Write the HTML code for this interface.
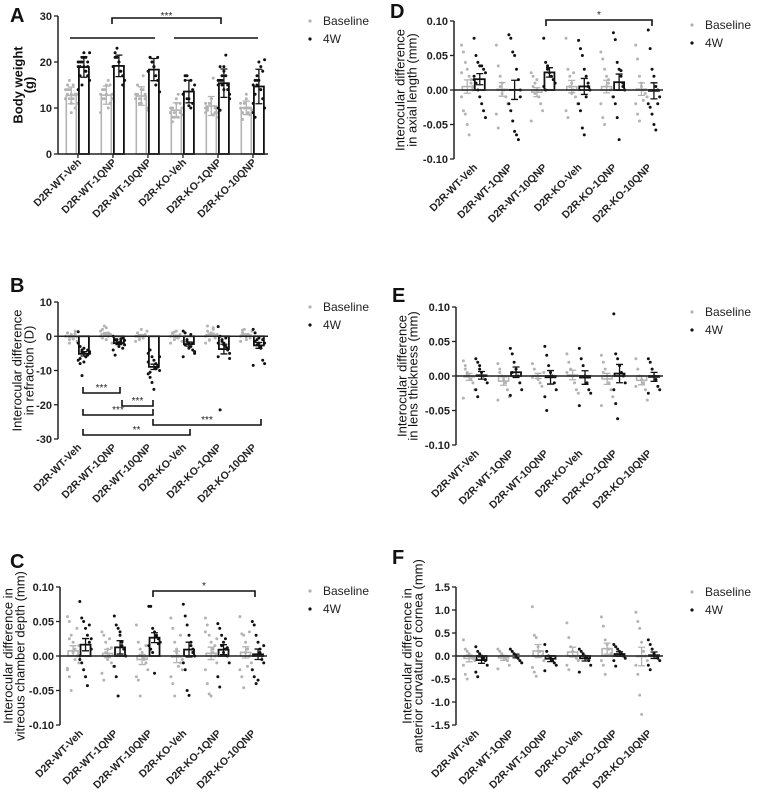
<!DOCTYPE html>
<html><head><meta charset="utf-8">
<style>
html,body{margin:0;padding:0;background:#fff;}
svg{display:block;font-family:"Liberation Sans",Arial,sans-serif;}
</style></head>
<body>
<svg id="fig" width="760" height="795" viewBox="0 0 760 795" xmlns="http://www.w3.org/2000/svg"></svg>
<script>
const categories=["D2R-WT-Veh","D2R-WT-1QNP","D2R-WT-10QNP","D2R-KO-Veh","D2R-KO-1QNP","D2R-KO-10QNP"];
const seriesNames=["Baseline","4W"];

const aBase=[[12,13,14,11,15,10,13,12,14,16,9,12,13,11,14,15,12,13],[13,14,12,15,16,11,13,9,12,14,13,10,15,12],[12,13,11,14,17,12,10,13,15,12,11,14,13,9.5],[9,10,8,11,13,9,8.5,10,7,9,12,8,11,10,9,8],[9,10,11,12,16.5,9,8,10,9.5,11,12,8.5,10,9,11],[10,9,11,13,10,8.5,9.5,11,7.5,10,12,9,10]];
const aW4=[[19,20,21,22,18,17,16,14,19,20,21,18,19,22,20,17,15,19,21,20],[19,21,23,20,18,17,16,19,22,21,20,18,15],[18,21,20,19,17,16,13.5,18,21,20,19,15,21],[13,16,17,12,10,11,15,13,17,12,10.5,16,14],[15,16,17,19,21.5,14,12,10,9.5,16,18,17,15,13,16,19,15,14],[15,16,17,20,19,12,10,9,8,15,16,14,18,20.5,11,13,16]];
const bBase=[[0,1,-1,0.5,-0.5,1.5,-1.5,0,1,-2,0.3,-0.8,0.7,-0.2],[0,2,3,-1,1,0.5,-2,1.5,-0.5,0.8,2.5,0],[0,1,-1,2,-0.5,0.5,1.5,-1.5,0,-0.8,0.3],[0,1,-1,1.5,-0.5,0.5,-1.5,-2,0.8,1.2,-0.3],[0,3,-1,1,2,-0.5,0.5,-2,1.5,-1.2,0.8,2.5,-0.3],[0,1,2,-1,0.5,-0.5,1.5,-1.5,1.8,0.3,-0.2]];
const bW4=[[1.3,-3,-4,-5,-6,-5.5,-4.5,-7,-8,-11.5,-3.5,-6,-4,-5,-2,-6.5,-4.8,-7.5],[0,-1,-2,-3,-1.5,-0.5,-2.5,-4,-5.5,-1,-2,-0.8,-3.5,-1.2],[-5,-4,-6,-7,-8,-9,-10,-11,-12,-13.5,-15.5,-9.5,-8.5,-6,-7.5,-10.5],[1.5,1,-1,-2,-3,-4,-5,-6,-2.5,-1.5,-3.5,0.5,-2,-4.5],[2.8,0,-1,-2,-3,-4,-6.5,-6,-21.5,-1.5,-2.5,-0.5,-3.5,-5,-2],[2,1,-1,-2,-3,-7,-8,-8.5,-1.5,-2.5,-0.5,-3.5,-1,-2]];
const cBase=[[0.057,0.05,0.03,0.02,0.01,0,-0.01,-0.02,-0.03,-0.05,0.005,-0.005,0.04,0.015,-0.018,0.025],[0.035,0.03,0.02,0.01,0,-0.01,-0.015,-0.025,-0.035,0.005,-0.005,0.025,0.012],[0.045,0.02,0.01,0,-0.005,-0.01,-0.02,-0.03,-0.035,-0.058,0.005,-0.003,0.015],[0.055,0.04,0.02,0.01,0,-0.01,-0.02,-0.03,-0.04,-0.058,0.005,-0.015,0.03,-0.005],[0.055,0.045,0.03,0.02,0.01,0,-0.01,-0.02,-0.04,-0.055,-0.058,0.005,0.015,0.025,0.035],[0.057,0.032,0.03,0.02,0.01,0,-0.01,-0.02,-0.03,-0.046,0.005,-0.015,0.035]];
const cW4=[[0.079,0.055,0.05,0.04,0.03,0.02,0.01,0,-0.01,-0.02,-0.03,-0.043,0.045,0.025,-0.005],[0.058,0.045,0.04,0.03,0.02,0.01,0,-0.015,-0.03,-0.058,0.035,0.015],[0.072,0.072,0.04,0.035,0.03,0.025,0.02,0.015,0.01,0.005,-0.025,0.028,0.018],[0.075,0.058,0.045,0.03,0.02,0.01,0,-0.01,-0.02,-0.05,-0.057,0.015,0.005],[0.047,0.04,0.03,0.02,0.01,0,-0.01,-0.03,-0.045,0.015,0.005,0.025,0.012],[0.05,0.045,0.03,0.02,0.01,0,-0.01,-0.02,-0.03,-0.04,-0.035,0.005,-0.005,0.015]];
const dBase=[[0.065,0.055,0.04,0.03,0.02,0.01,0,-0.01,-0.03,-0.035,-0.05,-0.065,0.015,0.005,0.025],[0.065,0.035,0.02,0.01,0,-0.01,-0.02,-0.035,-0.055,0.005,-0.005],[0.025,0.02,0.01,0,-0.01,-0.02,-0.03,-0.045,0.005,-0.005,0.015],[0.075,0.03,0.02,0.01,0,-0.01,-0.02,-0.03,-0.04,0.005,-0.005,0.025],[0.055,0.045,0.03,0.02,0.01,0,-0.01,-0.02,-0.04,-0.05,0.005,0.015],[0.065,0.045,0.02,0.01,0,-0.005,-0.01,-0.02,-0.035,-0.045,0.005,-0.015]];
const dW4=[[0.075,0.05,0.04,0.035,0.035,0.03,0.025,0.02,0.01,0,-0.01,-0.02,-0.03,-0.04,0.015],[0.08,0.075,0.055,0.05,0.03,0.015,0,-0.02,-0.03,-0.045,-0.06,-0.065,-0.072,-0.01],[0.075,0.04,0.035,0.025,0.02,0.015,0.01,0.005,0,0.03],[0.072,0.06,0.05,0.03,0.02,0.01,0,-0.02,-0.03,-0.055,-0.065,-0.01,0.005],[0.083,0.073,0.04,0.03,0.02,0.01,0,-0.01,-0.02,-0.04,-0.072,0.028,0.005],[0.087,0.06,0.03,0.02,0.005,0,-0.01,-0.02,-0.025,-0.035,-0.05,-0.058,-0.02]];
const eBase=[[0.022,0.01,0.005,0,-0.005,-0.01,-0.02,-0.032,0.015,0.002],[0.018,0.01,0,-0.005,-0.01,-0.02,-0.03,-0.035,0.005],[0.018,0.01,0,-0.005,-0.01,-0.015,0.005,-0.002],[0.032,0.02,0.01,0,-0.01,-0.02,-0.025,0.005],[0.03,0.02,0.01,0,-0.01,-0.02,-0.03,-0.043,0.005],[0.025,0.01,0,-0.005,-0.01,-0.02,-0.035,-0.015]];
const eW4=[[0.025,0.02,0.015,0.005,0,-0.005,-0.01,-0.02,-0.03,0.01],[0.04,0.032,0.02,0.01,0,-0.01,-0.02,-0.028,0.005],[0.043,0.03,0.015,0.005,0,-0.01,-0.02,-0.03,-0.05],[0.04,0.025,0.015,0,-0.01,-0.02,-0.025,-0.043],[0.09,0.032,0.025,0.015,0.005,0,-0.01,-0.02,-0.04,-0.062],[0.025,0.02,0.01,0,-0.005,-0.015,-0.02,-0.025]];
const fBase=[[0.35,0.15,0.1,0.05,0,-0.05,-0.1,-0.2,-0.4,-0.5,0.02],[0.15,0.1,0.05,0,-0.05,-0.1,-0.2,-0.28],[1.07,0.45,0.4,0.2,0.1,0,-0.1,-0.25,-0.35,-0.44],[0.72,0.4,0.2,0.1,0,-0.05,-0.1,-0.2,-0.3],[0.85,0.65,0.35,0.25,0.15,0.05,0,-0.1,-0.2,-0.4],[0.95,0.75,0.6,0.3,0.1,0,-0.1,-0.2,-0.4,-0.85,-1.27]];
const fW4=[[0.2,0.1,0.05,0,-0.05,-0.1,-0.2,-0.35,-0.45],[0.15,0.1,0.05,0,-0.05,-0.1,-0.15],[0.25,0.1,0,-0.05,-0.1,-0.15,-0.2,-0.32],[0.15,0.1,0.05,0,-0.05,-0.1,-0.2,-0.35],[0.25,0.2,0.15,0.1,0.05,0,-0.05,-0.1,-0.22],[0.35,0.25,0.15,0.05,0,-0.05,-0.1,-0.2,-0.3]];

const tickA=["0","10","20","30"], tickAv=[0,10,20,30];
const tickB=["-30","-20","-10","0","10"], tickBv=[-30,-20,-10,0,10];
const tickMm=["-0.10","-0.05","0.00","0.05","0.10"], tickMmv=[-0.1,-0.05,0,0.05,0.1];
const tickF=["-1.5","-1.0","-0.5","0.0","0.5","1.0","1.5"], tickFv=[-1.5,-1,-0.5,0,0.5,1,1.5];

const NS="http://www.w3.org/2000/svg";
const svg=document.getElementById('fig');
function el(tag,attrs,parent,text){const e=document.createElementNS(NS,tag);for(const k in attrs)e.setAttribute(k,attrs[k]);if(text!==undefined)e.textContent=text;(parent||svg).appendChild(e);return e;}
function mean(a){return a.reduce((s,v)=>s+v,0)/a.length;}
function sd(a){const m=mean(a);return Math.sqrt(a.reduce((s,v)=>s+(v-m)*(v-m),0)/(a.length-1));}

const panels=[
 {id:'a',letter:'A',lx:10,ly:22,x0:58,x1:268,yT:16,yB:154,min:0,max:30,tv:tickAv,tl:tickA,base:aBase,w4:aW4,sd:true,title:['Body weight','(g)'],tx:[18,29],bold:true,leg:[310,25]},
 {id:'b',letter:'B',lx:10,ly:292,x0:58,x1:268,yT:302,yB:439,min:-30,max:10,tv:tickBv,tl:tickB,base:bBase,w4:bW4,sd:false,title:['Interocular difference','in refraction (D)'],tx:[17,29],leg:[310,311]},
 {id:'c',letter:'C',lx:10,ly:568,x0:60,x1:267,yT:587,yB:725,min:-0.1,max:0.1,tv:tickMmv,tl:tickMm,base:cBase,w4:cW4,sd:false,title:['Interocular difference in','vitreous chamber depth (mm)'],tx:[8,20],leg:[310,595]},
 {id:'d',letter:'D',lx:390,ly:18,x0:454,x1:663,yT:21,yB:159,min:-0.1,max:0.1,tv:tickMmv,tl:tickMm,base:dBase,w4:dW4,sd:false,title:['Interocular difference','in axial length (mm)'],tx:[400,412],leg:[692,29]},
 {id:'e',letter:'E',lx:392,ly:302,x0:456,x1:663,yT:307,yB:445,min:-0.1,max:0.1,tv:tickMmv,tl:tickMm,base:eBase,w4:eW4,sd:false,title:['Interocular difference','in lens thickness (mm)'],tx:[402,413],leg:[692,316]},
 {id:'f',letter:'F',lx:392,ly:564,x0:456,x1:663,yT:587,yB:725,min:-1.5,max:1.5,tv:tickFv,tl:tickF,base:fBase,w4:fW4,sd:false,title:['Interocular difference in','anterior curvature of cornea (mm)'],tx:[407,418],leg:[692,596]}
];

panels.forEach(p=>{
 const g=el('g',{});
 
 
 const Y=v=>p.yB-(v-p.min)/(p.max-p.min)*(p.yB-p.yT);
 const gw=(p.x1-p.x0)/6;
 const bx=i=>p.x0+gw*(i+0.38), wx=i=>p.x0+gw*(i+0.74), tx=i=>p.x0+gw*(i+0.57);
 const y0=Y(Math.max(0,p.min));
 const lt=el('text',{x:p.lx,y:p.ly,'font-size':20,'font-weight':'bold',fill:'#111'},g,p.letter);
 
 
 const cy=(p.yT+p.yB)/2;
 p.title.forEach((t,k)=>{const tl=el('text',{x:0,y:0,'font-size':13,'font-weight':p.bold?'bold':'normal',fill:'#111','text-anchor':'middle',transform:`translate(${p.tx[k]+4.5},${cy}) rotate(-90)`},g,t);
  
  });
 for(let i=0;i<6;i++){
  [[p.base[i],bx(i),'#b3b3b3'],[p.w4[i],wx(i),'#111']].forEach(([arr,x,col],si)=>{
   const m=mean(arr), e=p.sd?sd(arr):sd(arr)/Math.sqrt(arr.length);
   const r=el('rect',{x:x-5,y:Math.min(Y(m),y0),width:10,height:Math.abs(Y(m)-y0),fill:'#fff',stroke:col,'stroke-width':si?1.8:1.6},g);
   
   
   arr.forEach((v,j)=>{const c=el('circle',{cx:x+((j%7)-3)*1.9,cy:Y(v),r:1.5,fill:col},g);
    
    });
   const eb=el('path',{d:`M${x},${Y(m-e)}V${Y(m+e)}M${x-3.5},${Y(m+e)}H${x+3.5}M${x-3.5},${Y(m-e)}H${x+3.5}`,stroke:col,'stroke-width':1.3,fill:'none'},g);
   
   
  });
 }
 const ya=el('line',{x1:p.x0,y1:p.yT,x2:p.x0,y2:p.yB,stroke:'#222','stroke-width':1.5},g);
 
 
 const xa=el('line',{x1:p.x0,y1:y0,x2:p.x1,y2:y0,stroke:'#222','stroke-width':1.5},g);
 
 
 p.tv.forEach((v,k)=>{
  el('line',{x1:p.x0-4,y1:Y(v),x2:p.x0,y2:Y(v),stroke:'#222','stroke-width':1.3},g);
  const t=el('text',{x:p.x0-6,y:Y(v)+4,'font-size':11,'font-weight':'bold','text-anchor':'end',fill:'#222'},g,p.tl[k]);
  
  
 });
 categories.forEach((c,i)=>{
  if(p.id==='a')el('line',{x1:tx(i),y1:y0,x2:tx(i),y2:y0+4,stroke:'#222','stroke-width':1.3},g);
  const t=el('text',{x:0,y:0,'font-size':10.5,'font-weight':'bold','text-anchor':'end',fill:'#222',transform:`translate(${tx(i)+4},${p.yB+9}) rotate(-45)`},g,c);
  
  
 });
 const lg=el('g',{},g);
 
 
 seriesNames.forEach((s,k)=>{
  el('circle',{cx:p.leg[0],cy:p.leg[1]+k*18-4,r:1.6,fill:k?'#111':'#b3b3b3'},lg);
  const t=el('text',{x:p.leg[0]+13,y:p.leg[1]+k*18,'font-size':12,fill:'#222'},lg,s);
  
  
 });
});

function br(x1,x2,y,dir,label,ly){
 const d=dir===0?`M${x1},${y}H${x2}`:`M${x1},${y+dir*6}V${y}H${x2}V${y+dir*6}`;
 const p=el('path',{d,stroke:'#111','stroke-width':1.6,fill:'none'});
 
 
 if(label){const t=el('text',{x:(x1+x2)/2,y:ly,'font-size':10,'text-anchor':'middle',fill:'#222'},svg,label);
  
  }
}
br(70,155,38,0); br(174,258,38,0); br(112,221,18,1,'***',19);
br(83,120,393,-1,'***',391); br(122,153,406,-1,'***',404); br(83,153,415,-1,'***',413);
br(153,261,425,-1,'***',423); br(83,190,435,-1,'**',433);
br(153,255,591,1,'*',589);
br(546,652,20,1,'*',18);
</script>
</body></html>
